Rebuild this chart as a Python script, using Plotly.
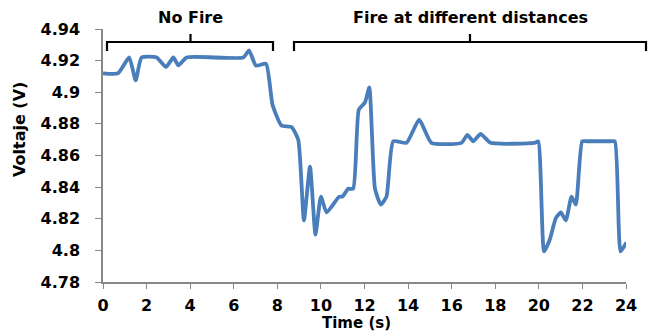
import plotly.graph_objects as go

# ---------------- Data ---------------- #
time_s = [0.0, 0.69, 1.2, 1.5, 1.77, 2.46, 2.89, 3.23, 3.46, 3.84, 6.44, 6.7, 7.02, 7.48,
          7.78, 8.19, 8.65, 8.96, 9.22, 9.5, 9.75, 10.0, 10.26, 10.84, 10.99, 11.25, 11.48,
          11.74, 12.02, 12.22, 12.48, 12.75, 13.01, 13.32, 13.93, 14.51, 15.07, 16.45, 16.72,
          16.99, 17.33, 17.78, 19.8, 19.97, 20.24, 20.5, 20.78, 21.01, 21.24, 21.5, 21.7, 21.99,
          22.2, 23.3, 23.49, 23.75, 24.02]
voltage = [4.912, 4.912, 4.922, 4.9075, 4.922, 4.922, 4.916, 4.922, 4.917, 4.922, 4.922, 4.9265,
           4.9168, 4.918, 4.892, 4.879, 4.878, 4.870, 4.819, 4.853, 4.810, 4.834, 4.824, 4.834,
           4.834, 4.839, 4.839, 4.889, 4.8935, 4.903, 4.839, 4.829, 4.834, 4.869, 4.868, 4.8826,
           4.868, 4.868, 4.873, 4.869, 4.8737, 4.868, 4.868, 4.869, 4.7993, 4.8067, 4.8204, 4.824,
           4.819, 4.834, 4.829, 4.869, 4.869, 4.869, 4.869, 4.7993, 4.805]

x_ticks = list(range(0, 25, 2))
y_ticks = [4.78, 4.80, 4.82, 4.84, 4.86, 4.88, 4.90, 4.92, 4.94]
y_labels = ["4.78", "4.8", "4.82", "4.84", "4.86", "4.88", "4.9", "4.92", "4.94"]

# ---------------- Figure ---------------- #
fig = go.Figure()

fig.add_trace(go.Scatter(
    x=time_s, y=voltage, mode="lines",
    line=dict(color="#4A7EBB", width=3.8, shape="spline", smoothing=0.5),
    showlegend=False
))

font = dict(family="DejaVu Sans", size=16, color="black")

# plot area in pixels
L, R, T, B = 103, 626, 29, 282
def px(p):
    return (p - L) / (R - L)
def py(p):
    return (B - p) / (B - T)

# Brackets above the curve
def bracket(x0, x1, xc):
    y_line, y_end, y_tip = py(42), py(51), py(34)
    path = (f"M {x0} {y_end} L {x0} {y_line} L {x1} {y_line} L {x1} {y_end} "
            f"M {xc} {y_line} L {xc} {y_tip}")
    fig.add_shape(type="path", path=path, xref="paper", yref="paper",
                  line=dict(color="black", width=2.2))

bracket(px(107), px(273), px(190.5))
bracket(px(294), px(646), px(470))

def label(text, x, y, angle=0, size=16):
    fig.add_annotation(text=f"<b>{text}</b>", x=px(x), y=py(y), xref="paper", yref="paper",
                       xanchor="center", yanchor="middle", showarrow=False,
                       font=dict(font, size=size), textangle=angle)

label("No Fire", 190, 17)
label("Fire at different distances", 470, 17)
label("Time (s)", 356, 323, size=15)
label("Voltaje (V)", 19, 130, -90)

fig.update_layout(
    width=650, height=333,
    margin=dict(l=L, r=650 - R, t=T, b=333 - B, autoexpand=False),
    paper_bgcolor="white", plot_bgcolor="white",
    font=font,
    xaxis=dict(range=[0, 24], tickvals=x_ticks, ticktext=[f"<b>{v}</b>" for v in x_ticks],
               showline=True, linecolor="#888888", linewidth=1.5, ticks="outside",
               tickcolor="#888888", ticklen=5, showgrid=False, zeroline=False,
               ticklabelstandoff=3),
    yaxis=dict(range=[4.78, 4.94], tickvals=y_ticks, ticktext=[f"<b>{t}</b>" for t in y_labels],
               showline=True, linecolor="#888888", linewidth=1.5, ticks="outside",
               tickcolor="#888888", ticklen=6, showgrid=False, zeroline=False,
               ticklabelstandoff=12),
)

# remove the default page margin so the figure sits at the window's corner
fig.write_html("out.html", config={"displayModeBar": False},
               post_script="document.body.style.margin='0';")
